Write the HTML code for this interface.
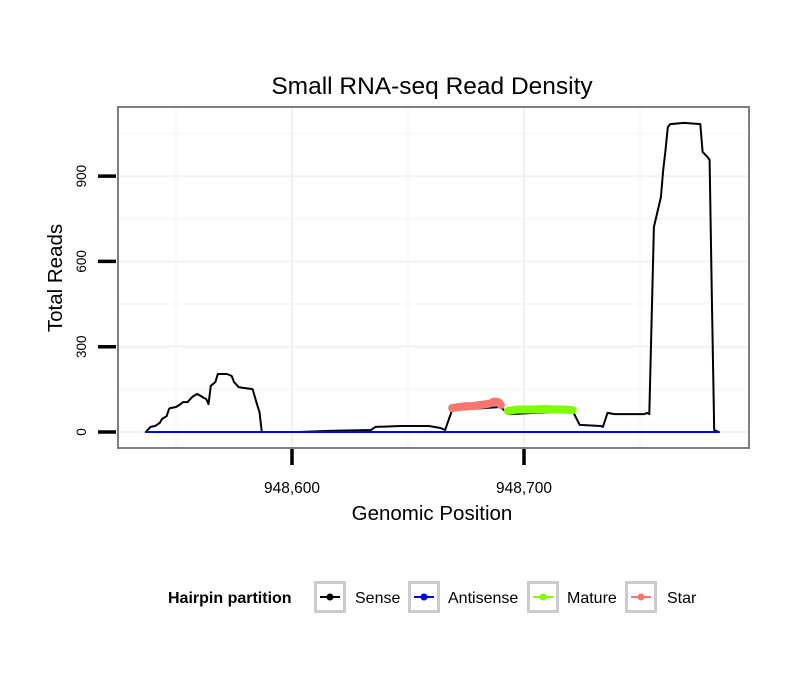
<!DOCTYPE html>
<html><head><meta charset="utf-8"><style>
body{margin:0;background:#fff;}
svg text{font-family:"Liberation Sans",sans-serif;}
</style></head><body>
<svg id="c" width="810" height="690" xmlns="http://www.w3.org/2000/svg">
<rect width="810" height="690" fill="#fff"/>
<text x="432" y="94" text-anchor="middle" font-size="24.5">Small RNA-seq Read Density</text>
<g id="grid"></g>
<g id="series"></g>
<rect x="118" y="107" width="631" height="341" fill="none" stroke="#7f7f7f" stroke-width="2"/>
<g id="axes"></g>
<text x="432" y="520" text-anchor="middle" font-size="20.5">Genomic Position</text>
<text transform="translate(62,278) rotate(-90)" text-anchor="middle" font-size="20.5">Total Reads</text>
<g>
<text x="168" y="603" font-size="16" font-weight="bold">Hairpin partition</text>
<g id="legend"></g>
</g>
</svg>
<script>
const yTicks=[0,300,600,900];
const xTicks=[948600,948700];
const xTickLabels=["948,600","948,700"];
const sensePos=[948537,948539,948541,948543,948544,948546,948547,948547.5,948550,948552,948553,948555,948557,948559,948560,948562,948563,948564,948565,948567,948568,948572,948574,948575,948577,948579,948583,948585,948586,948587,948603,948616,948634,948636,948647,948659,948664,948666,948669,948690,948693,948694,948721,948724,948733,948734,948736,948739,948752,948753,948754,948756,948759,948760,948761,948762,948763,948769,948776,948777,948779,948780,948781,948782,948784];
const senseVal=[0,18,21,32,46,56,81,84,88,98,105,105,123,134,130,120,116,98,162,176,204,204,197,176,158,155,151,95,70,0,0,4,7,18,21,21,14,7,77,88,63,63,74,25,21,18,67,63,63,67,63,721,826,921,991,1072,1083,1087,1083,985,968,957,464,7,0];
const starPos=[948669,948672,948675,948678,948681,948684,948686,948687,948689,948690];
const starVal=[84,88,91,91,95,98,102,107,105,95];
const maturePos=[948693,948697,948701,948705,948709,948713,948717,948721];
const matureVal=[74,79,79,79,81,79,79,77];
const antiPos=[948537,948784];
const antiVal=[0,0];

const xs=v=>292+(v-948600)*2.32;
const ys=v=>432-v*85.3/300;
const NS="http://www.w3.org/2000/svg";
function mk(tag,attrs,parent){const e=document.createElementNS(NS,tag);for(const k in attrs)e.setAttribute(k,attrs[k]);parent.appendChild(e);return e;}
const grid=document.getElementById('grid'),ser=document.getElementById('series'),ax=document.getElementById('axes'),leg=document.getElementById('legend');
for(let i=0;i<yTicks.length;i++){
  const y=ys(yTicks[i]);
  const g=mk('line',{x1:118,x2:749,y1:y,y2:y,stroke:'#f2f2f2','stroke-width':2},grid);
  
  
  const ym=ys(yTicks[i]+150);
  const g2=mk('line',{x1:118,x2:749,y1:ym,y2:ym,stroke:'#f7f7f7','stroke-width':1.5},grid);
  
  
  const t=mk('line',{x1:98,x2:116,y1:y,y2:y,stroke:'#000','stroke-width':3.5},ax);
  
  
  const l=mk('text',{transform:`translate(86,${y}) rotate(-90)`,'text-anchor':'middle','font-size':13.5},ax);
  l.textContent=yTicks[i];
  
  
}
for(const v of [948550,948650,948750]){
  const x=xs(v);
  const g=mk('line',{x1:x,x2:x,y1:107,y2:448,stroke:'#f7f7f7','stroke-width':1.5},grid);
  
  
}
for(let i=0;i<xTicks.length;i++){
  const x=xs(xTicks[i]);
  const g=mk('line',{x1:x,x2:x,y1:107,y2:448,stroke:'#f2f2f2','stroke-width':2},grid);
  
  
  const t=mk('line',{x1:x,x2:x,y1:449,y2:465,stroke:'#000','stroke-width':3.5},ax);
  
  
  const l=mk('text',{x:x,y:493,'text-anchor':'middle','font-size':15.5},ax);
  l.textContent=xTickLabels[i];
  
  
}
function line(p,v,col,w,name){
  const d=p.map((q,i)=>(i?'L':'M')+xs(q).toFixed(1)+','+ys(v[i]).toFixed(1)).join('');
  const e=mk('path',{d:d,fill:'none',stroke:col,'stroke-width':w,'stroke-linejoin':'round','stroke-linecap':'round'},ser);
  
  
}
line(sensePos,senseVal,'#000',2,'sense-line');
line(antiPos,antiVal,'#0000ff',2,'antisense-line');
line(maturePos,matureVal,'#7fff00',8,'mature-line');
line(starPos,starVal,'#f8766d',8,'star-line');
const legItems=[["Sense","#000",314,355],["Antisense","#0000ff",408,448],["Mature","#7fff00",527,567],["Star","#f8766d",625,667]];
for(const it of legItems){
  const g=mk('g',{},leg);
  
  
  mk('rect',{x:it[2]+1.5,y:582.5,width:29,height:29,fill:'#fff',stroke:'#cccccc','stroke-width':3},g);
  mk('line',{x1:it[2]+6,x2:it[2]+26,y1:597,y2:597,stroke:it[1],'stroke-width':2},g);
  mk('circle',{cx:it[2]+16,cy:597,r:3.5,fill:it[1]},g);
  const t=mk('text',{x:it[3],y:603,'font-size':16},g);
  t.textContent=it[0];
}
</script>
</body></html>
